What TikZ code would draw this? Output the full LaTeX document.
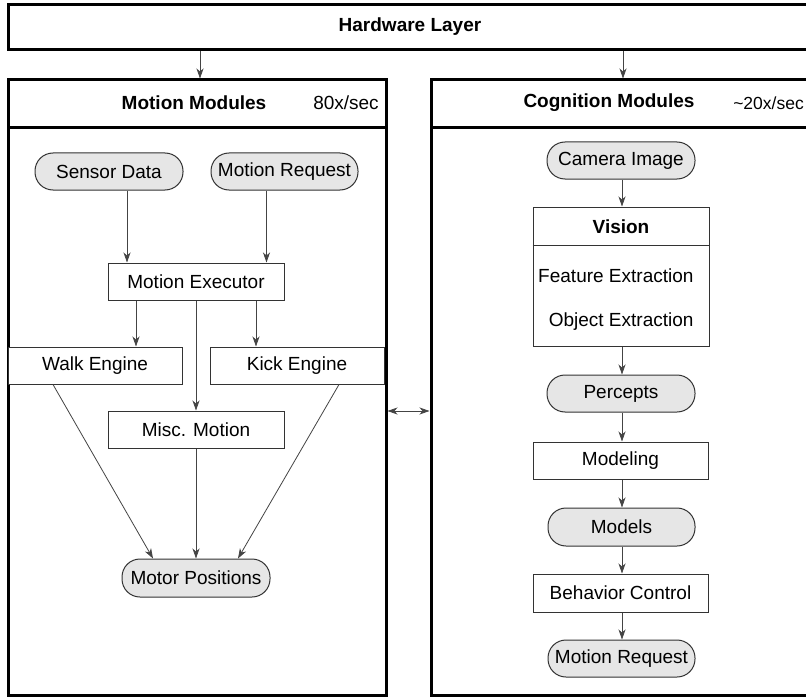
\documentclass[tikz,border=0pt]{standalone}
\usepackage{fontspec}
\setmainfont{Liberation Sans}
\usetikzlibrary{arrows.meta,calc}
\definecolor{pillfill}{HTML}{E6E6E6}
\definecolor{edge}{HTML}{333333}
\definecolor{arrowgray}{HTML}{444444}
\begin{document}
\begin{tikzpicture}[x=1pt,y=-1pt,
  font=\fontsize{19}{22}\selectfont,
  panel/.style={draw=black,line width=3pt,inner sep=0pt},
  pill/.style={draw=edge,fill=pillfill,line width=1pt,rounded corners=18pt,minimum height=37pt,inner sep=0pt},
  boxn/.style={draw=edge,fill=white,line width=1pt,minimum height=37pt,inner sep=0pt},
  arr/.style={draw=arrowgray,line width=0.8pt,-{Stealth[length=10pt,width=7pt,inset=3pt]}},
  arrb/.style={draw=arrowgray,line width=0.8pt,{Stealth[length=10pt,width=7pt,inset=3pt]}-{Stealth[length=10pt,width=7pt,inset=3pt]}},
  ttl/.style={font=\fontsize{19}{22}\selectfont\bfseries}
]
\clip (0,0) rectangle (806,698);
\fill[white] (0,0) rectangle (806,698);

% hardware layer
\node[panel,minimum width=830pt,minimum height=45pt] (hw) at (423,27.5) {};
\node[ttl] (hwt) at (410,27) {Hardware Layer};

% panels
\node[panel,minimum width=378pt,minimum height=615pt] (mm) at (197,387.5) {};
\node[panel,minimum width=400pt,minimum height=615pt] (cog) at (631,387.5) {};
\draw[line width=3pt] (8,128) -- (386,128);
\draw[line width=3pt] (431,128) -- (831,128);
\node[ttl] (mmt) at (194,103) {Motion Modules};
\node (mmr) at (346,103) {80x/sec};
\node[ttl] (cogt) at (609,103) {Cognition Modules};
\node[anchor=east,inner sep=0pt,font=\fontsize{17.5}{21}\selectfont] (cogr) at (804,103) {\textasciitilde20x/sec};

% left panel nodes
\node[pill,minimum width=148pt] (sd) at (109,171.5) {Sensor Data};
\node[pill,minimum width=147pt] (mr) at (284.5,171.5) {Motion Request};
\node[boxn,minimum width=176pt] (me) at (196,281.5) {Motion Executor};
\node[boxn,minimum width=174pt] (we) at (95,365.5) {Walk Engine};
\node[boxn,minimum width=174pt] (ke) at (297,365.5) {Kick Engine};
\node[boxn,minimum width=176pt] (mi) at (196,429.5) {Misc. Motion};
\node[pill,minimum width=148pt,minimum height=38pt] (mp) at (196,578) {Motor Positions};

% right panel nodes
\node[pill,minimum width=148pt] (cam) at (621,160.5) {Camera Image};
\node[draw=edge,line width=1pt,minimum width=176pt,minimum height=139pt,inner sep=0pt] (vis) at (621,276.5) {};
\draw[draw=edge,line width=1pt] (vis.west |- 0,245) -- (vis.east |- 0,245);
\node[ttl] (vist) at (621,226.5) {Vision};
\node[anchor=east] (fe) at (697,276) {Feature Extraction};
\node[anchor=east] (oe) at (697,322) {Object Extraction};
\node[pill,minimum width=148pt] (per) at (621,393.5) {Percepts};
\node[boxn,minimum width=175pt] (mod) at (620.5,460.5) {Modeling};
\node[pill,minimum width=147pt,minimum height=38pt] (mdl) at (621.5,527) {Models};
\node[boxn,minimum width=175pt,minimum height=38pt] (bc) at (620.5,593) {Behavior Control};
\node[pill,minimum width=147pt] (mr2) at (621.5,658.5) {Motion Request};

% connectors: hardware to panels
\draw[arr] (hw.south -| 200,0) -- (mm.north -| 200,0);
\draw[arr] (hw.south -| 623,0) -- (cog.north -| 623,0);

% left connectors
\draw[arr] ([xshift=18pt]sd.south) -- ([xshift=18pt]sd.south |- me.north);
\draw[arr] ([xshift=-18pt]mr.south) -- ([xshift=-18pt]mr.south |- me.north);
\draw[arr] ([xshift=-60pt]me.south) -- ([xshift=-60pt]me.south |- we.north);
\draw[arr] ([xshift=60pt]me.south) -- ([xshift=60pt]me.south |- ke.north);
\draw[arr] (me.south) -- (mi.north);
\draw[arr] ([xshift=-42pt]we.south) -- ([xshift=-43pt]mp.north);
\draw[arr] ([xshift=42pt]ke.south) -- ([xshift=42pt]mp.north);
\draw[arr] (mi.south) -- (mp.north);

% right connectors
\draw[arr] (cam.south -| 622,0) -- (vis.north -| 622,0);
\draw[arr] (vis.south -| 622,0) -- (per.north -| 622,0);
\draw[arr] (per.south -| 622,0) -- (mod.north -| 622,0);
\draw[arr] (mod.south -| 622,0) -- (mdl.north -| 622,0);
\draw[arr] (mdl.south -| 622,0) -- (bc.north -| 622,0);
\draw[arr] (bc.south -| 622,0) -- (mr2.north -| 622,0);

% between panels
\draw[arrb] (mm.east |- 0,411) -- (cog.west |- 0,411);
\end{tikzpicture}
\end{document}
